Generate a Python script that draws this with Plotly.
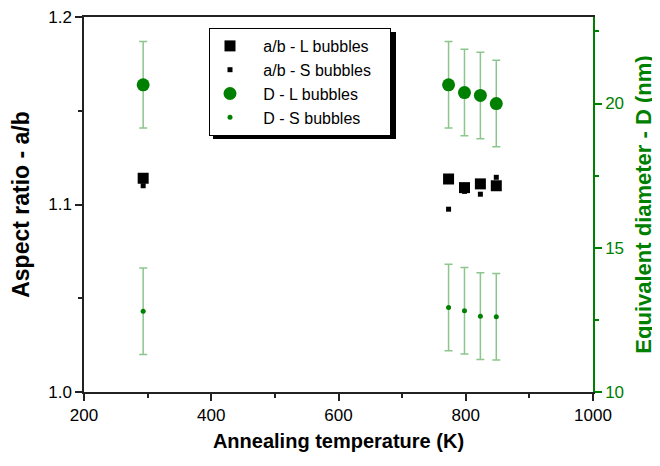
import plotly.graph_objects as go

temps = [293, 773, 798, 823, 848]
ab_L = [1.114, 1.1136, 1.109, 1.111, 1.110]
ab_S = [1.110, 1.0975, 1.107, 1.1055, 1.1145]
D_L = [20.65, 20.65, 20.38, 20.28, 20.0]
D_L_err = [1.5, 1.5, 1.5, 1.5, 1.5]
D_S = [12.8, 12.93, 12.82, 12.63, 12.61]
D_S_err = [1.5, 1.5, 1.5, 1.5, 1.5]
names = ["a/b - L bubbles", "a/b - S bubbles", "D - L bubbles", "D - S bubbles"]

GREEN = "#008000"
ERR = "rgba(0,128,0,0.45)"
AX = "#222222"
FONT = "Liberation Sans, Arial, sans-serif"
NB = "\u00a0"

def lbl(s):
    return NB * 3 + s + NB * 3

fig = go.Figure()
fig.add_trace(go.Scatter(x=temps, y=ab_L, mode="markers", name=lbl(names[0]),
                         marker=dict(symbol="square", size=11, color="black"), yaxis="y"))
fig.add_trace(go.Scatter(x=temps, y=ab_S, mode="markers", name=lbl(names[1]),
                         marker=dict(symbol="square", size=5, color="black"), yaxis="y"))
fig.add_trace(go.Scatter(x=temps, y=D_L, mode="markers", name=lbl(names[2]),
                         marker=dict(symbol="circle", size=13, color=GREEN),
                         error_y=dict(type="data", array=D_L_err, color=ERR, thickness=1.5, width=4),
                         yaxis="y2"))
fig.add_trace(go.Scatter(x=temps, y=D_S, mode="markers", name=lbl(names[3]),
                         marker=dict(symbol="circle", size=5, color=GREEN),
                         error_y=dict(type="data", array=D_S_err, color=ERR, thickness=1.5, width=4),
                         yaxis="y2"))

# page is offset by the 8px body margin
W, H = 652, 458
L, R, T, B = 76, 67, 9, 74
PW, PH = W - L - R, H - T - B

def px(xp):
    return (xp - L) / PW

def py(yp):
    return (H - B - yp) / PH

LGX, LGY, LGW, LGH = 201, 20, 183, 107

fig.update_layout(
    width=W, height=H,
    margin=dict(l=L, r=R, t=T, b=B),
    paper_bgcolor="white", plot_bgcolor="white",
    font=dict(family=FONT, size=17, color="black"),
    showlegend=True,
    legend=dict(x=px(LGX), y=py(LGY), xanchor="left", yanchor="top",
                bgcolor="white", bordercolor="black", borderwidth=1,
                font=dict(size=16, family=FONT), tracegroupgap=0, itemsizing="trace"),
    shapes=[dict(type="rect", xref="paper", yref="paper",
                 x0=px(LGX + 4), x1=px(LGX + LGW + 4), y0=py(LGY + 4), y1=py(LGY + LGH + 4),
                 fillcolor="black", line=dict(width=0), layer="above")],
    xaxis=dict(range=[200, 1000], dtick=200, tick0=200, showgrid=False, zeroline=False,
               showline=True, linecolor=AX, linewidth=1.5, mirror=True, automargin=False,
               ticks="outside", ticklen=7, tickwidth=1.5, tickcolor=AX, ticklabeloverflow="allow",
               minor=dict(dtick=100, ticks="outside", ticklen=4, tickcolor=AX, tickwidth=1.5),
               tickfont=dict(size=17),
               title=dict(text="<b>Annealing temperature (K)</b>", font=dict(size=20), standoff=10)),
    yaxis=dict(range=[1.0, 1.2], dtick=0.1, tickformat=".1f", showgrid=False, zeroline=False,
               showline=True, linecolor=AX, linewidth=1.5, automargin=False,
               ticks="outside", ticklen=7, tickwidth=1.5, tickcolor=AX, ticklabeloverflow="allow",
               minor=dict(dtick=0.05, ticks="outside", ticklen=4, tickcolor=AX, tickwidth=1.5),
               tickfont=dict(size=17),
               title=dict(text="<b>Aspect ratio - a/b</b>", font=dict(size=23), standoff=14)),
    yaxis2=dict(range=[10, 23], dtick=5, tick0=10, overlaying="y", side="right",
                showgrid=False, zeroline=False, automargin=False,
                showline=True, linecolor=GREEN, linewidth=1.5,
                ticks="outside", ticklen=7, tickwidth=1.5, tickcolor=GREEN, ticklabeloverflow="allow",
                minor=dict(dtick=2.5, ticks="outside", ticklen=4, tickcolor=GREEN, tickwidth=1.5),
                tickfont=dict(size=17, color=GREEN),
                title=dict(text="<b>Equivalent diameter - D (nm)</b>", font=dict(size=22, color=GREEN), standoff=13)),
)

fig.write_html("out.html")
